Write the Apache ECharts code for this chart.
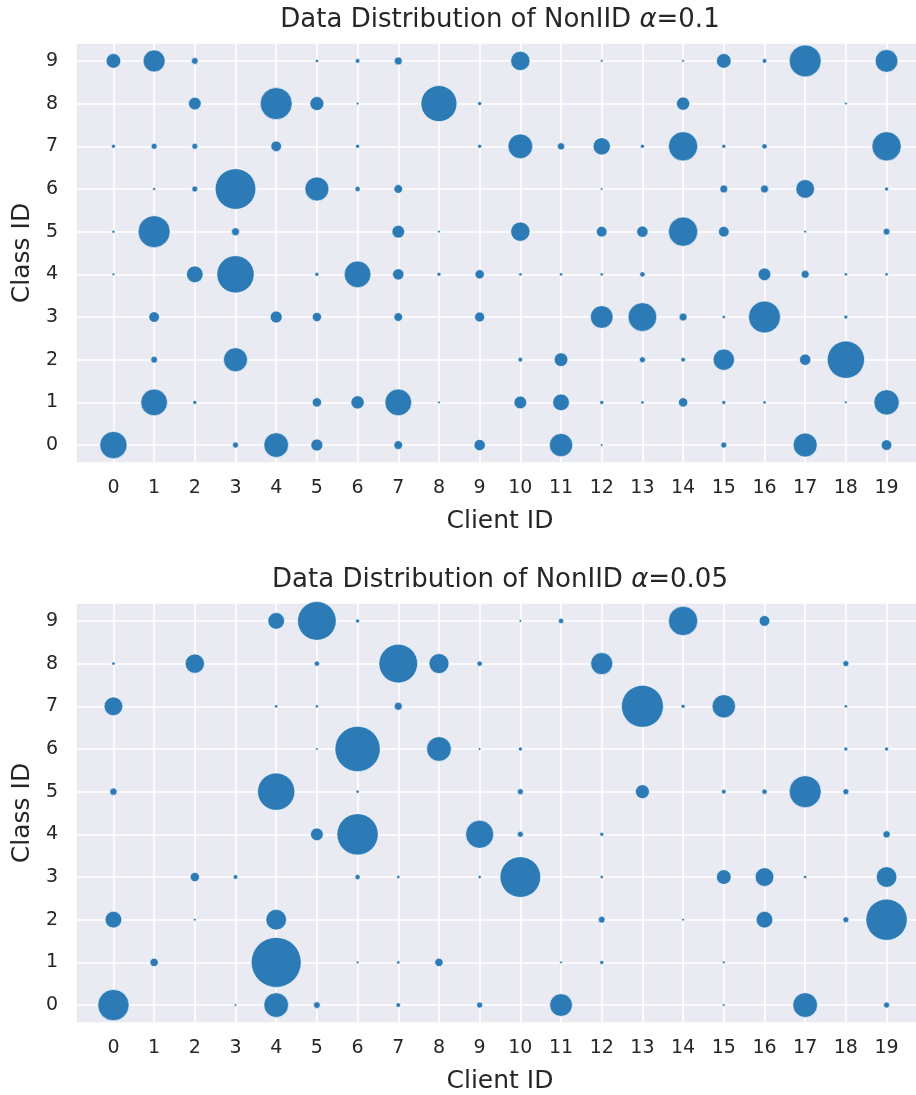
<!DOCTYPE html>
<html>
<head>
<meta charset="utf-8">
<script src="https://cdn.jsdelivr.net/npm/echarts@6/dist/echarts.min.js"></script>
<style>
  html, body { margin: 0; padding: 0; background: #fff; }
  #main { width: 916px; height: 1095px; }
</style>
</head>
<body>
<div id="main"></div>
<script>
// client / class ids used for ticks
const clientIds = [0, 1, 2, 3, 4, 5, 6, 7, 8, 9, 10, 11, 12, 13, 14, 15, 16, 17, 18, 19]
const classIds = [0, 1, 2, 3, 4, 5, 6, 7, 8, 9]

// estimated sample counts, one row per class, one column per client
// alpha = 0.1
const countsAlpha01 = [
  [745, 0, 0, 36, 610, 144, 0, 76, 0, 128, 0, 543, 7, 0, 0, 36, 0, 576, 0, 114],
  [0, 713, 16, 0, 0, 86, 177, 713, 7, 0, 161, 279, 16, 11, 86, 16, 11, 0, 7, 640],
  [0, 45, 0, 576, 0, 0, 0, 0, 0, 0, 22, 188, 0, 36, 22, 454, 0, 128, 1391, 0],
  [0, 114, 0, 0, 144, 86, 0, 76, 0, 100, 0, 0, 515, 824, 64, 11, 1024, 0, 16, 0],
  [7, 0, 279, 1391, 0, 16, 713, 128, 16, 86, 11, 11, 11, 28, 0, 0, 161, 64, 11, 11],
  [9, 1024, 0, 64, 0, 0, 0, 161, 7, 0, 372, 0, 114, 128, 858, 114, 0, 7, 0, 45],
  [0, 9, 36, 1656, 0, 576, 28, 76, 0, 0, 0, 0, 7, 0, 0, 64, 64, 350, 0, 16],
  [16, 36, 36, 0, 114, 0, 16, 0, 0, 16, 610, 53, 299, 16, 858, 16, 28, 0, 0, 858],
  [0, 0, 161, 0, 1024, 196, 7, 0, 1296, 16, 0, 0, 0, 0, 177, 0, 0, 0, 7, 0],
  [216, 484, 45, 0, 0, 11, 22, 64, 0, 0, 372, 0, 7, 0, 7, 216, 22, 1024, 0, 515]
]

// alpha = 0.05
const countsAlpha005 = [
  [980, 0, 0, 7, 610, 45, 0, 22, 0, 36, 0, 515, 0, 0, 0, 7, 0, 610, 0, 36],
  [0, 69, 0, 0, 2500, 0, 7, 11, 69, 0, 0, 7, 16, 0, 0, 7, 0, 0, 0, 0],
  [279, 0, 7, 0, 428, 0, 0, 0, 0, 0, 0, 0, 45, 0, 7, 0, 279, 0, 36, 1706],
  [0, 0, 86, 22, 0, 0, 28, 11, 0, 11, 1656, 0, 11, 0, 0, 216, 350, 11, 0, 428],
  [0, 0, 0, 0, 0, 161, 1706, 0, 0, 784, 36, 0, 16, 0, 0, 0, 0, 0, 0, 53],
  [53, 0, 0, 0, 1391, 0, 11, 0, 0, 0, 36, 0, 0, 196, 0, 22, 28, 1024, 36, 0],
  [0, 0, 0, 0, 0, 7, 2052, 0, 610, 7, 16, 0, 0, 0, 0, 0, 0, 0, 16, 16],
  [350, 0, 0, 0, 11, 11, 0, 64, 0, 0, 0, 0, 0, 1764, 16, 543, 0, 0, 11, 0],
  [11, 0, 372, 0, 0, 28, 0, 1498, 400, 28, 0, 0, 484, 0, 0, 0, 0, 0, 36, 0],
  [0, 0, 0, 0, 279, 1498, 16, 0, 0, 0, 7, 28, 0, 0, 858, 0, 114, 0, 0, 0]
]

const titles = ['Data Distribution of NonIID {a|α}=0.1', 'Data Distribution of NonIID {a|α}=0.05']

const FONT = 'DejaVu Sans'
const TEXT = '#262626'
const DOT = '#2c7bb6'

function toPoints(counts) {
  const pts = []
  for (let c = 0; c < counts.length; c++) {
    for (let k = 0; k < counts[c].length; k++) {
      if (counts[c][k] > 0) pts.push([clientIds[k], classIds[c], counts[c][k]])
    }
  }
  return pts
}

const tops = [43, 603]

const chart = echarts.init(document.getElementById('main'), null, { renderer: 'canvas' })

chart.setOption({
  backgroundColor: '#fff',
  animation: false,
  title: titles.map((t, i) => ({
    text: t,
    left: 500,
    top: tops[i] - 36,
    padding: 0,
    textAlign: 'center',
    textStyle: {
      fontFamily: FONT, fontSize: 26, fontWeight: 'normal', color: TEXT,
      rich: { a: { fontFamily: FONT, fontSize: 26, fontStyle: 'italic', color: TEXT } }
    }
  })),
  grid: tops.map(t => ({
    left: 76, top: t, width: 848, height: 420,
    outerBoundsMode: 'none', containLabel: false,
    show: true, backgroundColor: '#eaeaf2', borderWidth: 0
  })),
  xAxis: tops.map((t, i) => ({
    type: 'value', gridIndex: i,
    min: -0.92, max: 19.92, splitNumber: 20,
    name: 'Client ID', nameLocation: 'middle', nameGap: 46,
    nameTextStyle: { fontFamily: FONT, fontSize: 25, color: TEXT },
    axisLine: { show: false }, axisTick: { show: false },
    axisLabel: {
      fontFamily: FONT, fontSize: 19, color: TEXT, margin: 16,
      showMinLabel: false, showMaxLabel: false,
      formatter: v => clientIds.includes(v) ? String(v) : ''
    },
    splitLine: { show: true, lineStyle: { color: '#fff', width: 1.6 } }
  })),
  yAxis: tops.map((t, i) => ({
    type: 'value', gridIndex: i,
    min: -0.42, max: 9.42, splitNumber: 10,
    name: 'Class ID', nameLocation: 'middle', nameGap: 41,
    nameTextStyle: { fontFamily: FONT, fontSize: 25, color: TEXT },
    axisLine: { show: false }, axisTick: { show: false },
    axisLabel: {
      fontFamily: FONT, fontSize: 19, color: TEXT, margin: 18,
      showMinLabel: false, showMaxLabel: false,
      formatter: v => classIds.includes(v) ? String(v) : ''
    },
    splitLine: { show: true, lineStyle: { color: '#fff', width: 1.6 } }
  })),
  series: [countsAlpha01, countsAlpha005].map((counts, i) => ({
    type: 'scatter',
    xAxisIndex: i, yAxisIndex: i,
    data: toPoints(counts),
    symbolSize: v => Math.sqrt(v[2]),
    itemStyle: { color: DOT, borderColor: '#fff', borderWidth: 0.6, opacity: 1 }
  }))
})
</script>
</body>
</html>
